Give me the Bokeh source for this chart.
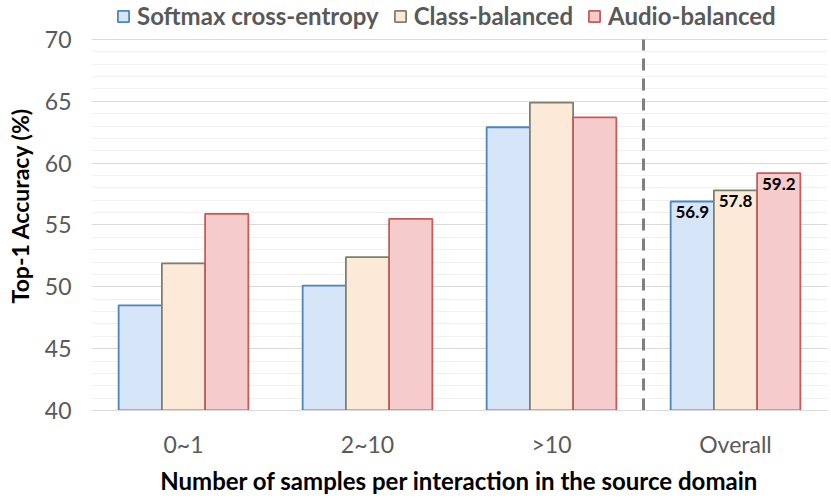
from bokeh.plotting import figure
from bokeh.models import (ColumnDataSource, FactorRange, Legend, LegendItem,
                          FixedTicker, Range1d)
from bokeh.transform import dodge
from bokeh.core.properties import value
from bokeh.embed import file_html
from bokeh.resources import INLINE

categories = ["0~1", "2~10", ">10", "Overall"]
softmax = [48.5, 50.1, 62.9, 56.9]
class_bal = [51.9, 52.4, 64.9, 57.8]
audio_bal = [55.9, 55.5, 63.7, 59.2]
series_names = ["Softmax cross-entropy", "Class-balanced", "Audio-balanced"]
y_major_ticks = [40, 45, 50, 55, 60, 65, 70]
y_minor_ticks = [41, 42, 43, 44, 46, 47, 48, 49, 51, 52, 53, 54,
                 56, 57, 58, 59, 61, 62, 63, 64, 66, 67, 68, 69]
fills = ["#d7e5f8", "#fde9d8", "#f6cbcb"]
lines = ["#4a85c6", "#7d806a", "#c65b58"]
x_title = "Number of samples per interaction in the source domain"
y_title = "Top-1 Accuracy (%)"

FONT = "Lato"
BW = 0.235
Y_TOP = 73.15  # headroom above the top tick for the legend

p = figure(x_range=FactorRange(*categories), y_range=Range1d(y_major_ticks[0], Y_TOP),
           width=829, height=497, output_backend="svg", toolbar_location=None,
           min_border_left=91, min_border_right=2, min_border_top=0, min_border_bottom=87)

src = ColumnDataSource(dict(cat=categories, s0=softmax, s1=class_bal, s2=audio_bal))
offsets = [-BW, 0.0, BW]
keys = ["s0", "s1", "s2"]
series_vals = [softmax, class_bal, audio_bal]
items = []
for i in range(3):
    r = p.vbar(x=dodge("cat", offsets[i], range=p.x_range), top=keys[i], width=BW,
               source=src, fill_color=fills[i], line_color=lines[i], line_width=1.8)
    items.append(LegendItem(label=series_names[i], renderers=[r]))
    lab_src = ColumnDataSource(dict(cat=[categories[-1]], v=[series_vals[i][-1]],
                                    t=["%.1f" % series_vals[i][-1]]))
    p.text(x=dodge("cat", offsets[i], range=p.x_range), y="v", text="t", source=lab_src,
           text_align="center", text_baseline="top", y_offset=5,
           text_font=value(FONT), text_font_style="bold", text_font_size="17px",
           text_color="#000000")

# dashed separator between the per-bin groups and "Overall"
sep_src = ColumnDataSource(dict(cat=[categories[-1]], y0=[y_major_ticks[0]], y1=[y_major_ticks[-1]]))
p.segment(x0=dodge("cat", -0.5, range=p.x_range), x1=dodge("cat", -0.5, range=p.x_range),
          y0="y0", y1="y1", source=sep_src, line_color="#7f7f7f", line_width=3,
          line_dash="12 8")

legend = Legend(items=items, orientation="horizontal", location=(25, 380),
                border_line_color=None, background_fill_alpha=0,
                label_text_font=FONT, label_text_font_style="bold",
                label_text_font_size="24px", label_text_color="#595959",
                glyph_width=14, glyph_height=14, spacing=14, label_standoff=7,
                padding=0, margin=0)
p.add_layout(legend)

tk = FixedTicker(ticks=y_major_ticks, minor_ticks=y_minor_ticks)
p.yaxis.ticker = tk
p.ygrid.ticker = tk
p.ygrid.grid_line_color = "#d9d9d9"
p.ygrid.minor_grid_line_color = "#f0f0f0"
p.xgrid.grid_line_color = None
p.outline_line_color = None

p.yaxis.axis_line_color = None
p.yaxis.major_tick_line_color = None
p.yaxis.minor_tick_line_color = None
p.yaxis.major_label_standoff = 14
p.yaxis.major_label_text_font = FONT
p.yaxis.major_label_text_font_size = "23px"
p.yaxis.major_label_text_color = "#595959"
p.yaxis.axis_label = y_title
p.yaxis.axis_label_text_font = FONT
p.yaxis.axis_label_text_font_style = "bold"
p.yaxis.axis_label_text_font_size = "23px"
p.yaxis.axis_label_text_color = "#000000"
p.yaxis.axis_label_standoff = 8

p.xaxis.axis_line_color = "#d9d9d9"
p.xaxis.major_tick_line_color = None
p.xaxis.minor_tick_line_color = None
p.xaxis.major_label_standoff = 13
p.xaxis.major_label_text_font = FONT
p.xaxis.major_label_text_font_size = "23px"
p.xaxis.major_label_text_color = "#595959"
p.xaxis.axis_label = x_title
p.xaxis.axis_label_text_font = FONT
p.xaxis.axis_label_text_font_style = "bold"
p.xaxis.axis_label_text_font_size = "24px"
p.xaxis.axis_label_text_color = "#000000"
p.xaxis.axis_label_standoff = 5

open("out.html", "w").write(file_html(p, INLINE))
